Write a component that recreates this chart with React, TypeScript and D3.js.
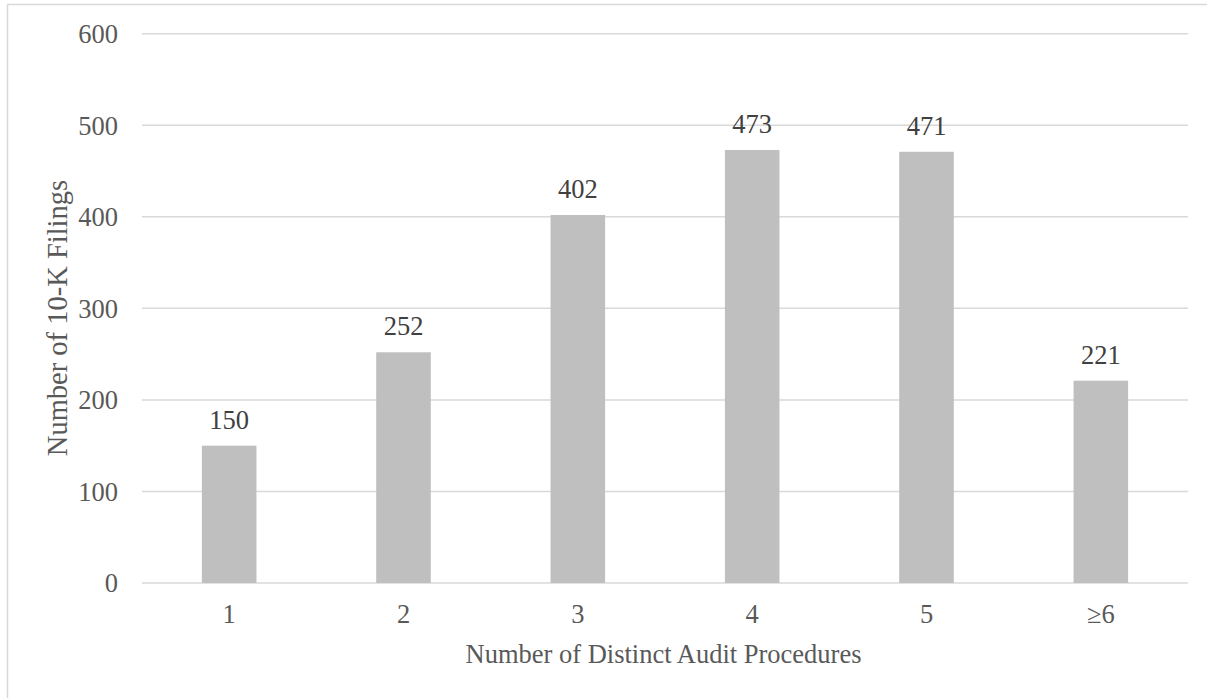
import React from "react";
import * as d3 from "d3";

const categories: string[] = ["1", "2", "3", "4", "5", "≥6"];
const values: number[] = [150, 252, 402, 473, 471, 221];
const yTicks: number[] = [0, 100, 200, 300, 400, 500, 600];
const xTitle = "Number of Distinct Audit Procedures";
const yTitle = "Number of 10-K Filings";

const W = 1207;
const H = 698;
const left = 142;
const right = 1188;
const top = 33.7;
const bottom = 583;
const font = "'Liberation Serif', 'Times New Roman', serif";
const textColor = "#595959";
const fs = 26.5;

export default function App() {
  const x = d3
    .scaleBand<string>()
    .domain(categories)
    .range([left, right])
    .paddingInner(0.687)
    .paddingOuter(0.687 / 2);
  const y = d3.scaleLinear().domain([0, 600]).range([bottom, top]);

  return (
    <svg
      width={W}
      height={H}
      style={{ position: "absolute", left: 0, top: 0, background: "#fff" }}
    >
      <rect x={7.5} y={4.5} width={W + 10} height={H + 10} fill="#fff" stroke="#d9d9d9" strokeWidth={1.5} />
      {yTicks.map((t) => (
        <g key={t}>
          <line x1={left} x2={right} y1={y(t)} y2={y(t)} stroke="#d9d9d9" strokeWidth={1.5} />
          <text
            x={118}
            y={y(t)}
            dy="0.35em"
            textAnchor="end"
            fontFamily={font}
            fontSize={fs}
            fill={textColor}
          >
            {t}
          </text>
        </g>
      ))}
      {categories.map((c, i) => (
        <g key={c}>
          <rect
            x={x(c)!}
            y={y(values[i])}
            width={x.bandwidth()}
            height={y(0) - y(values[i])}
            fill="#bfbfbf"
          />
          <text
            x={x(c)! + x.bandwidth() / 2}
            y={y(values[i]) - 17}
            textAnchor="middle"
            fontFamily={font}
            fontSize={fs}
            fill="#404040"
          >
            {values[i]}
          </text>
          <text
            x={x(c)! + x.bandwidth() / 2}
            y={623}
            textAnchor="middle"
            fontFamily={font}
            fontSize={fs}
            fill={textColor}
          >
            {c}
          </text>
        </g>
      ))}
      <text
        x={663.5}
        y={663}
        textAnchor="middle"
        fontFamily={font}
        fontSize={fs}
        fill={textColor}
      >
        {xTitle}
      </text>
      <text
        transform={`translate(67, 318) rotate(-90)`}
        textAnchor="middle"
        fontFamily={font}
        fontSize={28.5}
        fill={textColor}
      >
        {yTitle}
      </text>
    </svg>
  );
}
